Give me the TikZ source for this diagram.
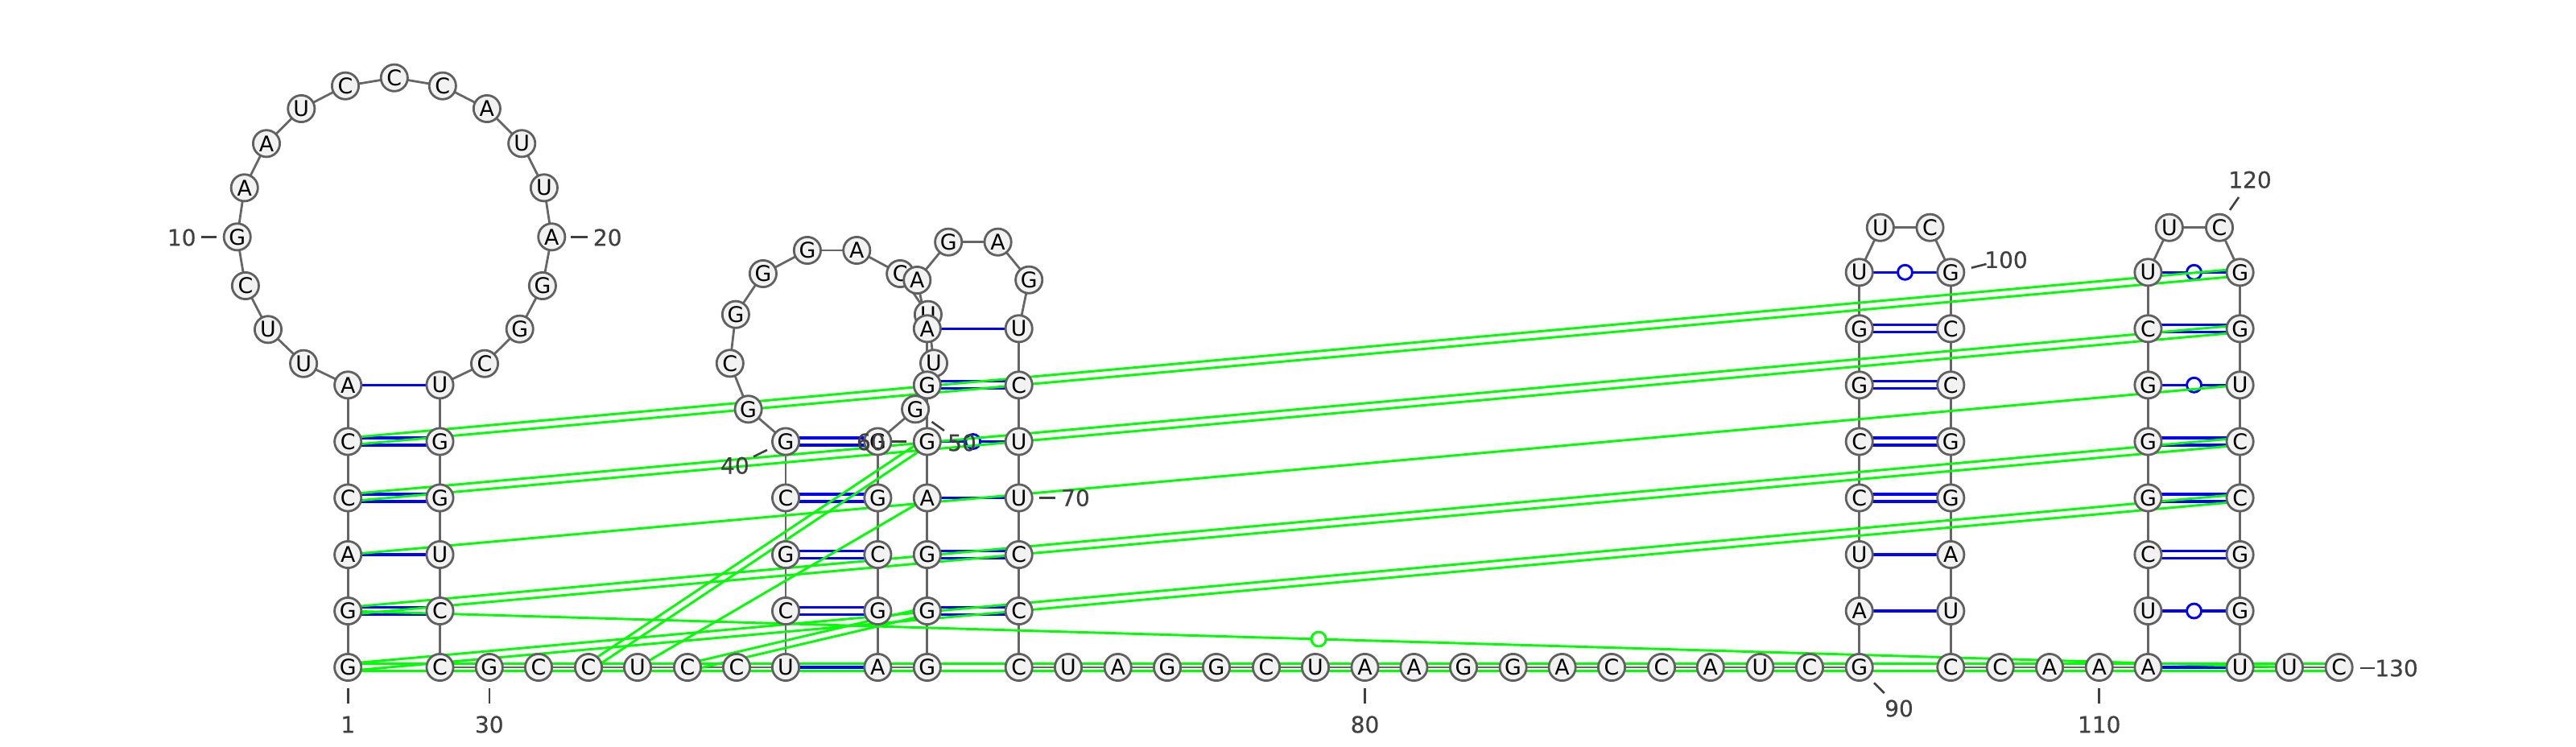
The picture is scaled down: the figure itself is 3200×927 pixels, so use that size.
\documentclass[tikz,border=0pt]{standalone}
\usepackage{fontspec}
\setmainfont{DejaVu Sans}
\newfontfamily\lblfont[FakeBold=0.5]{DejaVu Sans}
\usetikzlibrary{calc}
\pgfdeclarelayer{bg}
\pgfsetlayers{bg,main}
\definecolor{bbgray}{HTML}{666666}
\definecolor{lblgray}{HTML}{404040}
\definecolor{nodefill}{HTML}{F2F2F2}
\definecolor{nodeline}{HTML}{606060}
\tikzset{
  nt/.style={circle,draw=nodeline,fill=nodefill,line width=1.4pt,inner sep=0pt,minimum size=16.6pt,font=\fontsize{13.4}{13.4}\selectfont,text=black},
  bb/.style={draw=bbgray,line width=1.4pt},
  bluep/.style={draw=blue,line width=1.55pt},
  greenp/.style={draw=green,line width=1.45pt},
  gub/.style={circle,draw=blue,fill=white,line width=1.45pt,inner sep=0pt,minimum size=9pt},
  gug/.style={circle,draw=green,fill=white,line width=1.45pt,inner sep=0pt,minimum size=9pt},
  tickm/.style={draw=lblgray,line width=1.3pt},
  lbl/.style={text=lblgray,inner sep=0pt,font=\lblfont\fontsize{14}{14}\selectfont}
}
\newcommand\dblpair[3]{%
  \draw[#1] ($(n#2)!2.25pt!90:(n#3)$) -- ($(n#3)!2.25pt!-90:(n#2)$);
  \draw[#1] ($(n#2)!2.25pt!-90:(n#3)$) -- ($(n#3)!2.25pt!90:(n#2)$);}
\begin{document}
\begin{tikzpicture}[x=0.5pt,y=-0.5pt]
\useasboundingbox (0,0) rectangle (3200,927);
\foreach \i/\x/\y/\t in {
1/432.2/829/G,2/432.2/759/G,3/432.2/689/A,4/432.2/618.5/C,5/432.2/548.5/C,6/432.2/478.3/A,
7/377.1/451.7/U,8/333/409.3/U,9/304.9/355/C,10/294.7/294.3/G,11/303.7/233.3/A,12/331/178.3/A,
13/374.3/135/U,14/429/106.7/C,15/489.8/96.7/C,16/549.8/106.7/C,17/604.9/135/A,18/648.2/178.3/U,
19/675.9/233.3/U,20/685.3/294.3/A,21/673.9/355/G,22/645.7/408.7/G,23/602/451.7/C,
24/546.5/478.3/U,25/546.5/548.5/G,26/546.5/618.5/G,27/546.5/689/U,28/546.5/759/C,29/546.5/829/C,
30/607.8/829/G,31/669/829/C,32/731/829/C,33/792/829/U,34/854/829/C,35/915/829/C,36/976/829/U,
37/976/759/C,38/976/689/G,39/976/618.5/C,40/976/548.5/G,41/929.6/508.3/G,42/906.8/451.3/C,
43/913.9/390.7/G,44/947.9/340/G,45/1002.9/311/G,46/1064.3/311/A,47/1118.2/340/C,48/1152.9/390.7/U,
49/1160/451.3/U,50/1137.1/508.3/G,51/1090.4/548.5/G,52/1090.4/618.5/G,53/1090.4/689/C,54/1090.4/759/G,55/1090.4/829/A,
56/1151.8/829/G,57/1151.8/759/G,58/1151.8/689/G,59/1151.8/618.5/A,60/1151.8/548.5/G,61/1151.8/478.3/G,62/1151.8/408.3/A,
63/1139.3/348/A,64/1178.2/300.7/G,65/1239.6/300.7/A,66/1278.2/347.7/G,
67/1265.7/408.3/U,68/1265.7/478.3/C,69/1265.7/548.5/U,70/1265.7/618.5/U,71/1265.7/689/C,72/1265.7/759/C,73/1265.7/829/C,
74/1327/829/U,75/1388.7/829/A,76/1450/829/G,77/1511/829/G,78/1573/829/C,79/1634/829/U,80/1695.5/829/A,
81/1756.4/829/A,82/1818/829/G,83/1879.6/829/G,84/1940.6/829/A,85/2002/829/C,86/2064/829/C,87/2124.8/829/A,88/2186.4/829/U,89/2248/829/C,
90/2309.7/829/G,91/2309.7/759/A,92/2309.7/689/U,93/2309.7/618.5/C,94/2309.7/548.5/C,95/2309.7/478.3/G,96/2309.7/408.3/G,97/2309.7/338.3/U,
98/2335.8/282.7/U,99/2397.5/282.7/C,
100/2423.3/338.3/G,101/2423.3/408.3/C,102/2423.3/478.3/C,103/2423.3/548.5/G,104/2423.3/618.5/G,105/2423.3/689/A,106/2423.3/759/U,107/2423.3/829/C,
108/2484.7/829/C,109/2546/829/A,110/2607.7/829/A,
111/2668.4/829/A,112/2668.4/759/U,113/2668.4/689/C,114/2668.4/618.5/G,115/2668.4/548.5/G,116/2668.4/478.3/G,117/2668.4/408.3/C,118/2668.4/338.3/U,
119/2694.8/282.7/U,120/2757/282.7/C,
121/2782.6/338.3/G,122/2782.6/408.3/G,123/2782.6/478.3/U,124/2782.6/548.5/C,125/2782.6/618.5/C,126/2782.6/689/G,127/2782.6/759/G,128/2782.6/829/U,
129/2843.9/829/U,130/2905.6/829/C}
{\node[nt] (n\i) at (\x,\y) {\t};}
\begin{pgfonlayer}{bg}
\foreach \i in {1,...,129}{
  \pgfmathtruncatemacro{\j}{\i+1}
  \draw[bb] (n\i.center) -- (n\j.center);
}
\foreach \a/\b in {1/29,2/28,4/26,5/25,37/54,38/53,39/52,40/51,56/73,57/72,58/71,61/68,90/107,93/104,94/103,95/102,96/101,113/126,114/125,115/124,117/122}
  {\dblpair{bluep}{\a}{\b}}
\foreach \a/\b in {3/27,6/24,36/55,59/70,62/67,91/106,92/105,111/128}
  {\draw[bluep] (n\a.center) -- (n\b.center);}
\foreach \a/\b in {60/69,97/100,112/127,116/123,118/121}
  {\draw[bluep] (n\a.center) -- node[gub,midway] (gu\a) {} (n\b.center);}
\foreach \a/\b in {1/125,2/124,4/122,5/121,1/130,32/60,34/57}
  {\dblpair{greenp}{\a}{\b}}
\foreach \a/\b in {3/123,33/59}
  {\draw[greenp] (n\a.center) -- (n\b.center);}
\draw[greenp] (n2.center) -- node[gug,midway] (gg2) {} (n129.center);
\end{pgfonlayer}
\foreach \nm/\lx/\ly/\ax/\ay/\bx/\by in {
1/432.2/900/432.2/855/432.2/874,
10/225.7/295/250/294.3/269/294.3,
20/754.7/295/709.4/294.3/730/294.3,
30/607.8/900/607.8/855/607.8/874,
40/912.9/578.3/936/567.3/952.9/559,
50/1195/550/1157.5/524/1172.9/535,
60/1081.8/549/1107.5/548.5/1126.4/548.5,
70/1336/618.5/1291.4/618.5/1311/618.5,
80/1695.5/900/1695.5/855/1695.5/874,
90/2359/880/2328/848.3/2340.8/861,
100/2492/322.7/2449/332.7/2467.5/328,
110/2607.7/900/2607.7/855/2607.7/874,
120/2795/223.3/2770/261/2781/245,
130/2977/830/2932/830/2950/830}
{
  \coordinate (ta\nm) at (\ax,\ay);
  \coordinate (tb\nm) at (\bx,\by);
  \draw[tickm] (ta\nm) -- (tb\nm);
  \node[lbl] (l\nm) at (\lx,\ly) {\nm};
}
\end{tikzpicture}
\end{document}
